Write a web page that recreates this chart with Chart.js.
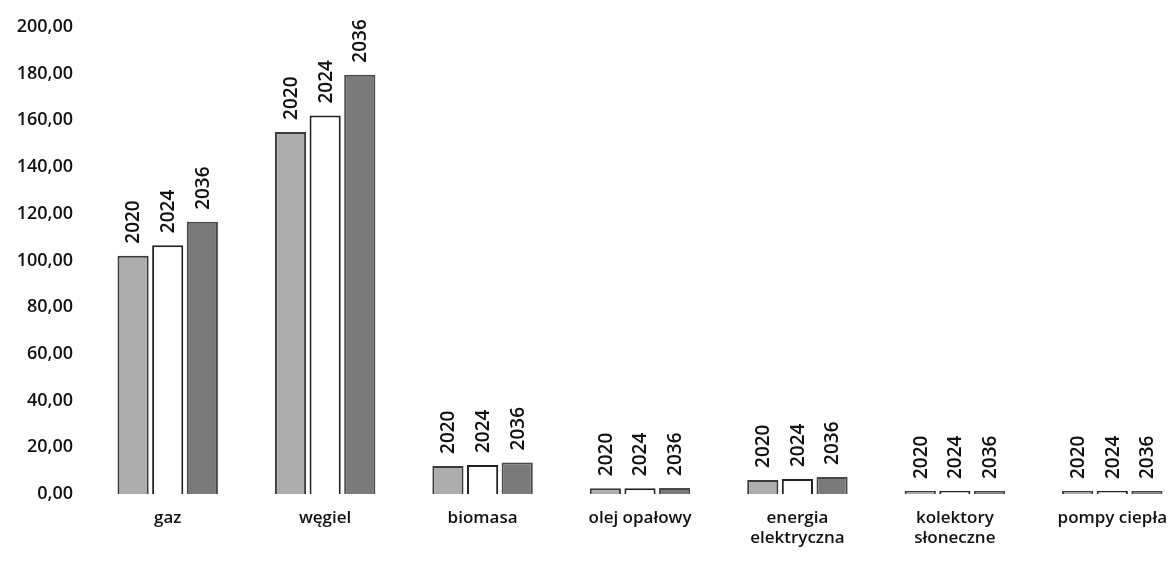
<!DOCTYPE html>
<html lang="pl">
<head>
<meta charset="UTF-8" />
<title>Zużycie paliw</title>
<script src="https://cdn.jsdelivr.net/npm/chart.js"></script>
<style>
  html, body { margin: 0; padding: 0; background: #fff; overflow: hidden; }
  #wrap { width: 1191px; height: 565px; position: relative; }
</style>
</head>
<body>
<div id="wrap"><canvas id="myChart"></canvas></div>
<script>
// categories (nośniki energii)
const categories = ['gaz', 'węgiel', 'biomasa', 'olej opałowy', ['energia', 'elektryczna'], ['kolektory', 'słoneczne'], 'pompy ciepła'];
const yearLabels = ['2020', '2024', '2036'];
const values2020 = [102.0, 155.0, 12.0, 2.5, 6.0, 1.0, 0.8];
const values2024 = [106.5, 162.0, 12.4, 2.5, 6.4, 1.0, 0.8];
const values2036 = [116.5, 179.5, 13.5, 2.6, 7.3, 1.0, 0.8];
const yTicks = [0, 20, 40, 60, 80, 100, 120, 140, 160, 180, 200];

const fontFamily = '"Open Sans", Lato, sans-serif';

// rotated year labels above each bar
const yearLabelPlugin = {
  id: 'yearLabels',
  afterDatasetsDraw(chart) {
    const ctx = chart.ctx;
    chart.data.datasets.forEach((ds, i) => {
      const meta = chart.getDatasetMeta(i);
      meta.data.forEach(bar => {
        ctx.save();
        ctx.translate(bar.x, bar.y - 12);
        ctx.rotate(-Math.PI / 2);
        ctx.font = '600 19px ' + fontFamily;
        ctx.fillStyle = '#111';
        ctx.textAlign = 'left';
        ctx.textBaseline = 'middle';
        ctx.fillText(ds.label, 0, 1);
        ctx.restore();
      });
    });
  }
};

const ctx = document.getElementById('myChart').getContext('2d');
const myChart = new Chart(ctx, {
  type: 'bar',
  data: {
    labels: categories,
    datasets: [
      { label: yearLabels[0], data: values2020, backgroundColor: '#adadad', borderColor: '#3a3a3a', borderWidth: 2 },
      { label: yearLabels[1], data: values2024, backgroundColor: '#ffffff', borderColor: '#222222', borderWidth: 2 },
      { label: yearLabels[2], data: values2036, backgroundColor: '#7a7a7a', borderColor: '#484848', borderWidth: 2 }
    ]
  },
  options: {
    responsive: true,
    maintainAspectRatio: false,
    animation: false,
    layout: { padding: { top: 26, left: 0, right: 0, bottom: 0 } },
    datasets: { bar: { categoryPercentage: 0.66, barPercentage: 0.9, minBarLength: 3 } },
    scales: {
      x: {
        grid: { display: false, drawTicks: false },
        border: { display: false },
        ticks: { color: '#111', font: { family: fontFamily, size: 17, weight: '600' }, padding: 14, maxRotation: 0, autoSkip: false },
        afterFit: s => { s.height = 71; }
      },
      y: {
        min: 0,
        max: 200,
        grid: { display: false, drawTicks: false },
        border: { display: false },
        afterBuildTicks: s => { s.ticks = yTicks.map(v => ({ value: v })); },
        ticks: {
          color: '#111',
          font: { family: fontFamily, size: 18, weight: '600' },
          padding: 16,
          callback: v => v.toFixed(2).replace('.', ',')
        },
        afterFit: s => { s.width = 89; }
      }
    },
    plugins: {
      legend: { display: false },
      tooltip: { enabled: false }
    }
  },
  plugins: [yearLabelPlugin]
});
</script>
</body>
</html>
